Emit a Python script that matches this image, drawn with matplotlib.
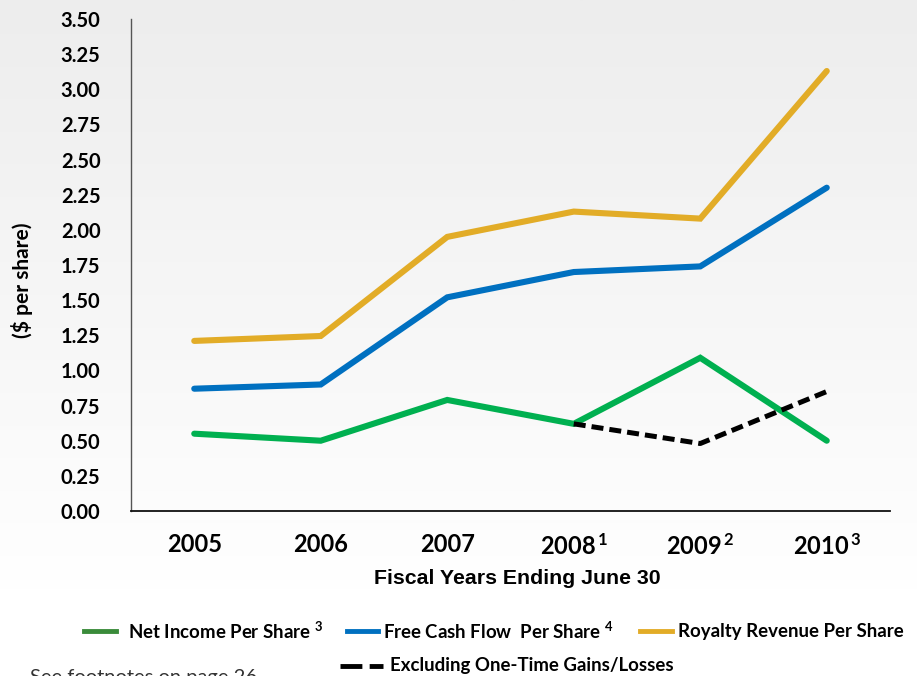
import numpy as np
import matplotlib
matplotlib.use("Agg")
import matplotlib.pyplot as plt
from matplotlib.lines import Line2D
from matplotlib.colors import LinearSegmentedColormap

plt.rcParams["mathtext.fontset"] = "custom"
plt.rcParams["mathtext.rm"] = "Lato:bold"
plt.rcParams["mathtext.bf"] = "Lato:bold"
plt.rcParams["mathtext.it"] = "Lato:bold"

# ---- data ----
years = ["2005", "2006", "2007", r"2008$^{\,1}$", r"2009$^{\,2}$", r"2010$^{\,3}$"]
royalty = [1.21, 1.245, 1.95, 2.13, 2.08, 3.13]
fcf = [0.87, 0.90, 1.52, 1.70, 1.74, 2.30]
net_income = [0.55, 0.50, 0.79, 0.62, 1.09, 0.50]
excl_idx = [3, 4, 5]
excl_vals = [0.62, 0.48, 0.85]
yticks = [0.00, 0.25, 0.50, 0.75, 1.00, 1.25, 1.50, 1.75, 2.00, 2.25, 2.50, 2.75, 3.00, 3.25, 3.50]

GOLD = "#e2ac27"
BLUE = "#0070c0"
GREEN = "#00b050"
LEG_GREEN = "#3a8b3a"

W, H = 917, 676
fig = plt.figure(figsize=(W / 100, H / 100), dpi=100)

# background gradient
bg = fig.add_axes([0, 0, 1, 1], zorder=-10)
grad = np.linspace(0, 1, 256).reshape(-1, 1)
cmap = LinearSegmentedColormap.from_list("g", ["#ededed", "#ffffff"])
bg.imshow(grad, aspect="auto", cmap=cmap, extent=[0, 1, 1 - 590 / H, 1],
          transform=bg.transAxes)
bg.set_xlim(0, 1)
bg.set_ylim(0, 1)
bg.axis("off")

def fx(px):
    return px / W

def fy(py):
    return 1 - py / H

ax = fig.add_axes([fx(131), fy(511), fx(890) - fx(131), fy(19) - fy(511)])
ax.set_facecolor("none")

x = np.arange(len(years))
kw = dict(lw=4.4, solid_capstyle="round", solid_joinstyle="miter")
ax.plot(x, royalty, color=GOLD, **kw, zorder=3)
ax.plot(x, fcf, color=BLUE, **kw, zorder=3)
ax.plot(x, net_income, color=GREEN, **kw, zorder=3)
ax.plot(excl_idx, excl_vals, color="black", lw=3.6, dashes=(2.4, 1.2),
        dash_capstyle="butt", zorder=4)

ax.set_xlim(-0.5, len(years) - 0.5)
ax.set_ylim(0, 3.5)
ax.set_yticks(yticks)
ax.set_yticklabels([f"{v:.2f}" for v in yticks])
ax.set_xticks(x)
ax.set_xticklabels(years)

for s in ["top", "right"]:
    ax.spines[s].set_visible(False)
ax.spines["left"].set_color("#555555")
ax.spines["left"].set_linewidth(1.0)
ax.spines["bottom"].set_color("#111111")
ax.spines["bottom"].set_linewidth(1.3)

ax.tick_params(axis="both", length=0)
ax.tick_params(axis="y", pad=22)
ax.tick_params(axis="x", pad=16)
for lab in ax.get_yticklabels():
    lab.set_family(["Lato", "DejaVu Sans"])
    lab.set_fontweight("bold")
    lab.set_fontsize(14.5)
for lab in ax.get_xticklabels():
    lab.set_family(["Lato", "DejaVu Sans"])
    lab.set_fontweight("bold")
    lab.set_fontsize(17)

fig.text(fx(517), fy(579), "Fiscal Years Ending June 30", ha="center", va="center",
         fontsize=15.3, fontweight="bold", family=["Liberation Sans", "DejaVu Sans"])
fig.text(fx(22), fy(280), "($ per share)", ha="center", va="center", rotation=90,
         fontsize=15, fontweight="bold", family=["Lato", "DejaVu Sans"])

# legend (manual)
leg_font = dict(fontsize=13.4, fontweight="bold", family=["Lato", "DejaVu Sans"],
                va="center", ha="left")
row1 = fy(631)
fig.add_artist(Line2D([fx(84), fx(116)], [row1, row1], color=LEG_GREEN, lw=3.5))
fig.text(fx(128), row1, r"Net Income Per Share $^{3}$", **leg_font)
fig.add_artist(Line2D([fx(347), fx(378)], [row1, row1], color=BLUE, lw=3.5))
fig.text(fx(383), row1, r"Free Cash Flow  Per Share $^{4}$", **leg_font)
fig.add_artist(Line2D([fx(640), fx(672)], [row1, row1], color=GOLD, lw=3.5))
fig.text(fx(678), row1, "Royalty Revenue Per Share", **leg_font)
row2 = fy(666)
fig.add_artist(Line2D([fx(340), fx(383)], [row2, row2], color="black", lw=3.5,
                      dashes=(4.5, 1.5), dash_capstyle="butt"))
fig.text(fx(390), row2, "Excluding One-Time Gains/Losses", **leg_font)

fig.text(fx(30), fy(669), "See footnotes on page 26", ha="left", va="top",
         fontsize=14.5, color="#333333", family=["Lato", "DejaVu Sans"])

fig.savefig("out.png", dpi=100)
